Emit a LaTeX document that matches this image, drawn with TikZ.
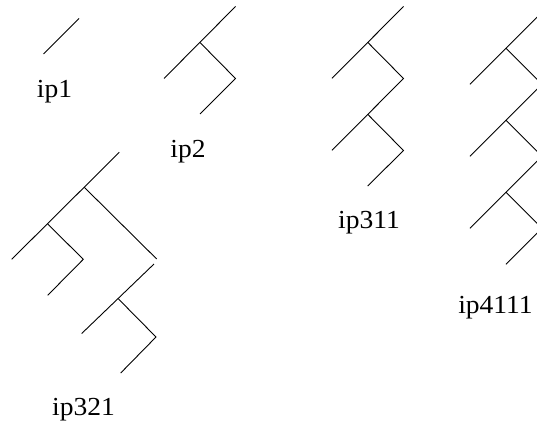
\documentclass[tikz,border=0pt]{standalone}
\usepackage{fontspec}
\setmainfont{Liberation Serif}
\begin{document}
\begin{tikzpicture}[x=1pt,y=-1pt,
  branch/.style={line width=0.9pt,line cap=butt,line join=miter},
  lbl/.style={anchor=base,inner sep=0pt,font=\fontsize{26}{30}\selectfont}]
\useasboundingbox (0,0) rectangle (537,428);
% ip1
\coordinate (a1) at (79,18.5);
\coordinate (a2) at (43.5,54);
\draw[branch] (a1) -- (a2);
\node[lbl] (l1) at (54.5,97) {\scalebox{1.06}[1]{ip1}};
% ip2
\coordinate (b0) at (235.5,6.5);
\coordinate (b1) at (200,42.5);
\coordinate (b2) at (164,78.5);
\coordinate (b3) at (235.5,78.5);
\coordinate (b4) at (200,114);
\draw[branch] (b0) -- (b2);
\draw[branch] (b1) -- (b3) -- (b4);
\node[lbl] (l2) at (188,157) {\scalebox{1.06}[1]{ip2}};
% ip311
\coordinate (c0) at (403.5,6.5);
\coordinate (c1) at (367.7,42.3);
\coordinate (c2) at (332,78.3);
\coordinate (c3) at (403.5,78.5);
\coordinate (c4) at (367.7,114.3);
\coordinate (c5) at (332,150.3);
\coordinate (c6) at (403.5,150.5);
\coordinate (c7) at (367.7,186);
\draw[branch] (c0) -- (c2);
\draw[branch] (c1) -- (c3) -- (c5);
\draw[branch] (c4) -- (c6) -- (c7);
\node[lbl] (l3) at (369,228.3) {\scalebox{1.06}[1]{ip311}};
% ip4111
\coordinate (d0) at (542,12.3);
\coordinate (d1) at (506,48.3);
\coordinate (d2) at (470,84.3);
\coordinate (d3) at (542,84.3);
\coordinate (d4) at (506,120.3);
\coordinate (d5) at (470,156.3);
\coordinate (d6) at (542,156.3);
\coordinate (d7) at (506,192.3);
\coordinate (d8) at (470,228.3);
\coordinate (d9) at (542,228.3);
\coordinate (d10) at (506,264.3);
\draw[branch] (d0) -- (d2);
\draw[branch] (d1) -- (d3) -- (d5);
\draw[branch] (d4) -- (d6) -- (d8);
\draw[branch] (d7) -- (d9) -- (d10);
\node[lbl] (l4) at (495.5,313.3) {\scalebox{1.06}[1]{ip4111}};
% ip321
\coordinate (e0) at (119.3,152.3);
\coordinate (e1) at (84.3,187.3);
\coordinate (e2) at (47.7,224);
\coordinate (e3) at (11.7,259.3);
\coordinate (e4) at (83.3,259.3);
\coordinate (e5) at (47.7,295.3);
\coordinate (e6) at (156.7,259);
\draw[branch] (e0) -- (e3);
\draw[branch] (e2) -- (e4) -- (e5);
\draw[branch] (e1) -- (e6);
\coordinate (f0) at (154,264);
\coordinate (f1) at (118.5,299);
\coordinate (f2) at (81.7,333.5);
\coordinate (f3) at (156,337);
\coordinate (f4) at (120.7,373);
\draw[branch] (f0) -- (f2);
\draw[branch] (f1) -- (f3) -- (f4);
\node[lbl] (l5) at (83.5,415) {\scalebox{1.06}[1]{ip321}};
\end{tikzpicture}
\end{document}
